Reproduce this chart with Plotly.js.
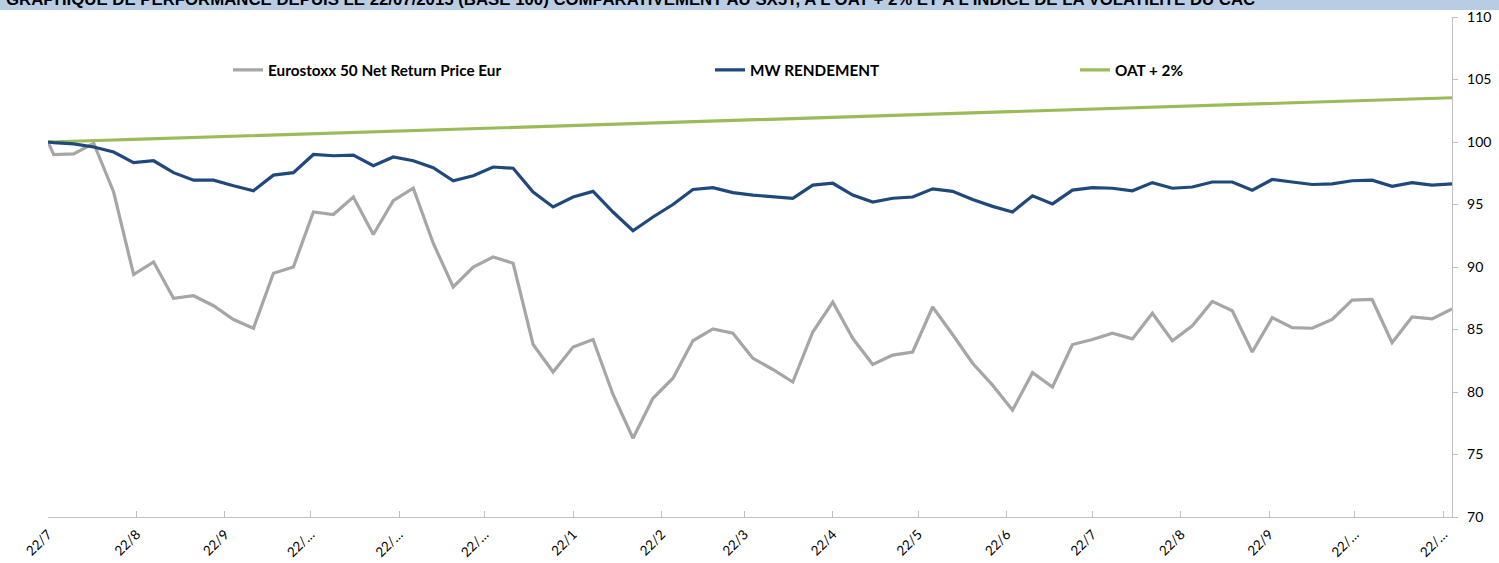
<!DOCTYPE html>
<html>
<head>
<meta charset="utf-8">
<script src="https://cdn.plot.ly/plotly-3.0.1.min.js"></script>
<style>
  html, body { margin: 0; padding: 0; background: #ffffff; }
  #chart { width: 1499px; height: 563px; }
</style>
</head>
<body>
<div id="chart"></div>
<script>
// ---- data ----
var dates = [
  "2015-07-22",
  "2015-07-24","2015-07-31","2015-08-07","2015-08-14","2015-08-21","2015-08-28",
  "2015-09-04","2015-09-11","2015-09-18","2015-09-25","2015-10-02","2015-10-09",
  "2015-10-16","2015-10-23","2015-10-30","2015-11-06","2015-11-13","2015-11-20",
  "2015-11-27","2015-12-04","2015-12-11","2015-12-18","2015-12-25","2016-01-01",
  "2016-01-08","2016-01-15","2016-01-22","2016-01-29","2016-02-05","2016-02-12",
  "2016-02-19","2016-02-26","2016-03-04","2016-03-11","2016-03-18","2016-03-25",
  "2016-04-01","2016-04-08","2016-04-15","2016-04-22","2016-04-29","2016-05-06",
  "2016-05-13","2016-05-20","2016-05-27","2016-06-03","2016-06-10","2016-06-17",
  "2016-06-24","2016-07-01","2016-07-08","2016-07-15","2016-07-22","2016-07-29",
  "2016-08-05","2016-08-12","2016-08-19","2016-08-26","2016-09-02","2016-09-09",
  "2016-09-16","2016-09-23","2016-09-30","2016-10-07","2016-10-14","2016-10-21",
  "2016-10-28","2016-11-04","2016-11-11","2016-11-18","2016-11-25"
];

var eurostoxx = [
  100.0, 99.0, 99.05, 99.9, 96.0, 89.4, 90.4, 87.5, 87.7, 86.9,
  85.8, 85.1, 89.5, 90.0, 94.4, 94.2, 95.6, 92.6, 95.3, 96.3,
  91.9, 88.4, 90.0, 90.8, 90.3, 83.8, 81.6, 83.6, 84.2, 79.8,
  76.3, 79.5, 81.1, 84.1, 85.05, 84.7, 82.7, 81.8, 80.8, 84.8,
  87.2, 84.3, 82.2, 82.95, 83.2, 86.8, 84.6, 82.3, 80.55, 78.55,
  81.55, 80.4, 83.8, 84.2, 84.7, 84.25, 86.3, 84.1, 85.3, 87.25,
  86.5, 83.2, 85.95, 85.15, 85.1, 85.8, 87.35, 87.4, 83.95, 86.0,
  85.85, 86.65
];

var mwRendement = [
  100.0, 99.95, 99.85, 99.6, 99.2, 98.35, 98.5, 97.55, 96.95, 96.95,
  96.5, 96.1, 97.35, 97.55, 99.0, 98.9, 98.95, 98.1, 98.8, 98.5,
  97.95, 96.9, 97.3, 98.0, 97.9, 96.0, 94.8, 95.6, 96.05, 94.4,
  92.9, 94.0, 95.0, 96.2, 96.35, 95.95, 95.75, 95.6, 95.5, 96.55,
  96.7, 95.75, 95.2, 95.5, 95.6, 96.25, 96.05, 95.4, 94.85, 94.4,
  95.7, 95.05, 96.15, 96.35, 96.3, 96.1, 96.75, 96.3, 96.4, 96.8,
  96.8, 96.15, 97.0, 96.8, 96.6, 96.65, 96.9, 96.95, 96.45, 96.75,
  96.55, 96.65
];

var oatPlus2 = [
  100.00, 100.01, 100.06, 100.11, 100.16, 100.21, 100.26, 100.31, 100.36, 100.41,
  100.46, 100.51, 100.57, 100.62, 100.67, 100.72, 100.77, 100.82, 100.87, 100.92,
  100.97, 101.02, 101.07, 101.12, 101.17, 101.22, 101.27, 101.32, 101.37, 101.42,
  101.47, 101.52, 101.58, 101.63, 101.68, 101.73, 101.78, 101.83, 101.88, 101.93,
  101.98, 102.03, 102.08, 102.13, 102.18, 102.23, 102.28, 102.33, 102.38, 102.43,
  102.48, 102.53, 102.59, 102.64, 102.69, 102.74, 102.79, 102.84, 102.89, 102.94,
  102.99, 103.04, 103.09, 103.14, 103.19, 103.24, 103.29, 103.34, 103.39, 103.44,
  103.49, 103.54
];

var seriesNames = ["Eurostoxx 50 Net Return Price Eur", "MW RENDEMENT", "OAT + 2%"];

var tickDates = [
  "2015-07-22","2015-08-22","2015-09-22","2015-10-22","2015-11-22","2015-12-22",
  "2016-01-22","2016-02-22","2016-03-22","2016-04-22","2016-05-22","2016-06-22",
  "2016-07-22","2016-08-22","2016-09-22","2016-10-22","2016-11-22"
];
var tickLabels = [
  "22/7","22/8","22/9","22/\u2026","22/\u2026","22/\u2026",
  "22/1","22/2","22/3","22/4","22/5","22/6",
  "22/7","22/8","22/9","22/\u2026","22/\u2026"
];
var yTicks = [70, 75, 80, 85, 90, 95, 100, 105, 110];

var titleText = "GRAPHIQUE DE PERFORMANCE DEPUIS LE 22/07/2015 (BASE 100) COMPARATIVEMENT AU SX5T, A L'OAT + 2% ET A L'INDICE DE LA VOLATILITE DU CAC";

// ---- layout geometry (pixels) ----
var W = 1499, H = 563;
var mL = 48, mR = 47, mT = 17, mB = 46;
var plotW = W - mL - mR, plotH = H - mT - mB;
function px2x(p) { return (p - mL) / plotW; }
function py2y(p) { return 1 + (mT - p) / plotH; }

var colors = ["#a6a6a6", "#1f497d", "#9bbb59"];
var ys = [eurostoxx, mwRendement, oatPlus2];
var legendIds = ["legend", "legend2", "legend3"];

var traces = ys.map(function (v, i) {
  return {
    type: "scatter",
    mode: "lines",
    x: dates,
    y: v,
    name: seriesNames[i],
    line: { color: colors[i], width: 3.2 },
    legend: legendIds[i],
    hoverinfo: "skip"
  };
});
// draw order: OAT, Eurostoxx, MW on top
traces = [traces[2], traces[0], traces[1]];

var legFont = { family: "Lato, 'Open Sans', sans-serif", size: 15.3, color: "#000000", weight: "bold" };
function leg(px) {
  return {
    x: px2x(px), xanchor: "left",
    y: py2y(70), yanchor: "middle",
    orientation: "h",
    bgcolor: "rgba(0,0,0,0)",
    font: legFont,
    itemclick: false, itemdoubleclick: false
  };
}

var layout = {
  width: W, height: H,
  margin: { l: mL, r: mR, t: mT, b: mB, pad: 0 },
  paper_bgcolor: "#ffffff",
  plot_bgcolor: "#ffffff",
  font: { family: "Lato, 'Open Sans', sans-serif", size: 13, color: "#000000" },
  xaxis: {
    type: "date",
    range: ["2015-07-22", "2016-11-25"],
    tickmode: "array",
    tickvals: tickDates,
    ticktext: tickLabels,
    tickangle: -45,
    ticks: "inside",
    ticklen: 6,
    tickcolor: "#bfbfbf",
    tickwidth: 1,
    showline: true,
    linecolor: "#bfbfbf",
    linewidth: 1.3,
    showgrid: false,
    zeroline: false,
    ticklabelstandoff: 3,
    tickfont: { family: "Lato, 'Open Sans', sans-serif", size: 13.5, color: "#000000" },
    fixedrange: true
  },
  yaxis: {
    side: "right",
    range: [70, 110],
    tickmode: "array",
    tickvals: yTicks,
    ticktext: yTicks.map(String),
    ticks: "outside",
    ticklen: 5,
    tickcolor: "#bfbfbf",
    showline: true,
    linecolor: "#bfbfbf",
    linewidth: 1.3,
    showgrid: false,
    zeroline: false,
    ticklabelstandoff: 6,
    tickfont: { family: "Lato, 'Open Sans', sans-serif", size: 14, color: "#000000" },
    fixedrange: true
  },
  showlegend: true,
  legend: leg(228),
  legend2: leg(710),
  legend3: leg(1075),
  shapes: [{
    type: "rect", xref: "paper", yref: "paper",
    x0: px2x(0), x1: px2x(W), y0: py2y(0), y1: py2y(10),
    fillcolor: "#b8cce4", line: { width: 0 }, layer: "below"
  }],
  annotations: [{
    xref: "paper", yref: "paper",
    x: px2x(4), xanchor: "left",
    y: py2y(-0.5), yanchor: "middle",
    text: titleText,
    showarrow: false,
    font: { family: "'Liberation Sans', Arial, sans-serif", size: 16.8, color: "#000000", weight: "bold" }
  }]
};

Plotly.newPlot("chart", traces, layout, { staticPlot: true, displayModeBar: false });
</script>
</body>
</html>
